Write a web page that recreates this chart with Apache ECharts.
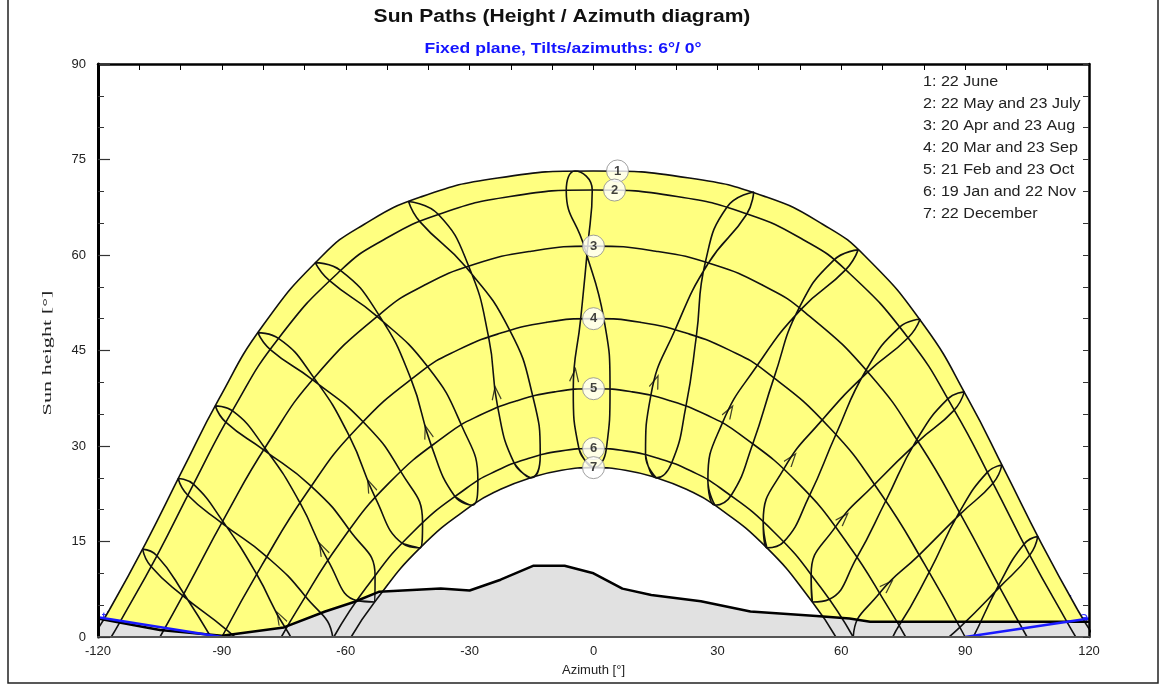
<!DOCTYPE html>
<html><head><meta charset="utf-8">
<script src="https://cdn.jsdelivr.net/npm/echarts@6/dist/echarts.min.js"></script>
<style>html,body{margin:0;padding:0;background:#fff}#c{width:1168px;height:686px}</style>
</head><body><div id="c"></div>
<script>
// ---------- data (azimuth [deg], sun height [deg]) ----------
const xTicks = [-120, -90, -60, -30, 0, 30, 60, 90, 120];
const yTicks = [0, 15, 30, 45, 60, 75, 90];
const hourLabels = ['7h','8h','9h','10h','11h','12h','13h','14h','15h','16h','17h','18h','19h'];
const pathNumbers = ['1','2','3','4','5','6','7'];
const legendLines = ['1: 22 June','2: 22 May and 23 July','3: 20 Apr and 23 Aug','4: 20 Mar and 23 Sep','5: 21 Feb and 23 Oct','6: 19 Jan and 22 Nov','7: 22 December'];

// sun position at each clock hour 7h..19h for each date
const jan19 = [[-76.0,-15.3],[-67.0,-4.4],[-57.2,5.7],[-46.3,14.7],[-33.6,22.1],[-19.2,27.3],[-3.5,29.5],[12.6,28.6],[27.7,24.6],[41.1,18.1],[52.7,9.7],[62.9,0.0],[72.2,-10.6]];
const feb21 = [[-84.0,-10.0],[-74.5,1.3],[-64.3,12.0],[-52.8,21.8],[-39.3,30.1],[-23.2,36.1],[-4.9,38.9],[13.9,38.0],[31.2,33.6],[46.1,26.4],[58.6,17.3],[69.3,6.9],[79.1,-4.1]];
const mar20 = [[-91.3,-1.5],[-81.6,9.9],[-71.1,21.1],[-59.1,31.5],[-44.2,40.5],[-25.4,47.1],[-3.1,50.0],[19.8,48.3],[39.6,42.6],[55.4,34.1],[68.1,24.0],[78.9,12.9],[88.7,1.5]];
const apr20 = [[-99.2,6.8],[-89.8,18.2],[-79.6,29.7],[-67.7,40.7],[-52.0,50.6],[-30.2,58.2],[-1.4,61.4],[27.8,58.7],[50.3,51.5],[66.4,41.6],[78.6,30.7],[88.8,19.3],[98.3,7.8]];
const may22 = [[-105.8,12.8],[-96.9,24.0],[-87.4,35.5],[-76.3,46.9],[-61.3,57.6],[-37.6,66.4],[-0.3,70.2],[37.1,66.4],[61.1,57.7],[76.2,47.0],[87.3,35.6],[96.8,24.2],[105.7,12.9]];
const jun22 = [[-109.2,13.8],[-100.6,24.9],[-91.6,36.3],[-81.3,47.8],[-67.4,58.8],[-44.8,68.4],[-4.5,73.2],[38.8,69.9],[64.1,60.8],[79.1,49.9],[89.8,38.5],[98.9,27.0],[107.6,15.8]];
const jul23 = [[-107.2,11.1],[-98.3,22.3],[-89.0,33.7],[-78.2,45.1],[-64.0,56.0],[-42.0,65.2],[-6.6,70.1],[32.3,67.5],[58.2,59.2],[74.2,48.7],[85.8,37.4],[95.4,25.9],[104.3,14.6]];
const aug23 = [[-99.5,6.5],[-90.0,17.9],[-79.9,29.4],[-68.0,40.4],[-52.5,50.4],[-30.9,58.1],[-2.3,61.4],[27.1,58.9],[49.8,51.7],[66.0,41.9],[78.3,31.0],[88.6,19.6],[98.1,8.1]];
const sep23 = [[-89.0,1.2],[-79.1,12.6],[-68.4,23.7],[-55.8,33.8],[-40.1,42.4],[-20.3,48.2],[2.5,50.0],[24.9,47.2],[43.7,40.7],[58.7,31.8],[70.8,21.4],[81.3,10.2],[91.0,-1.2]];
const oct23 = [[-79.5,-4.6],[-69.8,6.4],[-59.1,16.8],[-46.7,26.0],[-32.0,33.3],[-14.7,37.8],[4.0,38.9],[22.4,36.3],[38.6,30.4],[52.3,22.2],[63.8,12.5],[74.0,1.8],[83.5,-9.5]];
const nov22 = [[-72.4,-10.8],[-63.1,-0.2],[-52.9,9.6],[-41.4,18.0],[-28.0,24.5],[-12.9,28.6],[3.1,29.5],[18.9,27.3],[33.4,22.3],[46.0,14.9],[57.0,5.9],[66.8,-4.2],[75.8,-15.1]];
const dec22 = [[-71.6,-14.8],[-62.7,-4.2],[-53.0,5.5],[-42.0,14.0],[-29.4,20.7],[-15.2,25.0],[0.0,26.6],[15.2,25.0],[29.4,20.7],[42.0,14.0],[53.0,5.5],[62.7,-4.2],[71.6,-14.8]];

// daily sun paths, sunrise to sunset
const sunPath1 = [[-121.3,0],[-117.3,4.2],[-108.4,14.8],[-99.7,26.0],[-90.7,37.4],[-80.2,48.8],[-65.8,59.8],[-55.6,64.8],[-41.9,69.1],[-23.2,72.1],[0,73.2],[23.2,72.1],[41.9,69.1],[55.6,64.8],[65.8,59.8],[80.2,48.8],[90.7,37.4],[99.7,26.0],[108.4,14.8],[117.3,4.2],[121.3,0]];
const sunPath2 = [[-116.8,0],[-114.9,2.1],[-105.7,12.8],[-96.8,24.1],[-87.4,35.6],[-76.3,46.9],[-61.2,57.6],[-50.8,62.4],[-37.4,66.4],[-20.2,69.2],[0,70.2],[20.2,69.2],[37.4,66.4],[50.8,62.4],[61.2,57.6],[76.3,46.9],[87.4,35.6],[96.8,24.1],[105.7,12.8],[114.9,2.1],[116.8,0]];
const sunPath3 = [[-105.0,0],[-98.8,7.3],[-89.3,18.8],[-79.1,30.2],[-67.0,41.2],[-51.2,51.0],[-41.1,55.2],[-29.0,58.5],[-15.1,60.6],[0,61.4],[15.1,60.6],[29.0,58.5],[41.1,55.2],[51.2,51.0],[67.0,41.2],[79.1,30.2],[89.3,18.8],[98.8,7.3],[105.0,0]];
const sunPath4 = [[-90,0],[-80.2,11.4],[-69.6,22.5],[-57.3,32.8],[-41.9,41.6],[-32.8,45.1],[-22.6,47.7],[-11.6,49.4],[0,50.0],[11.6,49.4],[22.6,47.7],[32.8,45.1],[41.9,41.6],[57.3,32.8],[69.6,22.5],[80.2,11.4],[90,0]];
const sunPath5 = [[-75.6,0],[-71.9,4.1],[-61.5,14.7],[-49.5,24.2],[-35.3,31.9],[-27.3,34.9],[-18.6,37.1],[-9.4,38.5],[0,39.0],[9.4,38.5],[18.6,37.1],[27.3,34.9],[35.3,31.9],[49.5,24.2],[61.5,14.7],[71.9,4.1],[75.6,0]];
const sunPath6 = [[-62.9,0],[-55.0,7.8],[-43.7,16.5],[-30.7,23.4],[-23.5,26.1],[-16.0,28.0],[-8.1,29.2],[0,29.6],[8.1,29.2],[16.0,28.0],[23.5,26.1],[30.7,23.4],[43.7,16.5],[55.0,7.8],[62.9,0]];
const sunPath7 = [[-58.7,0],[-53.0,5.5],[-42.0,14.0],[-29.4,20.7],[-22.5,23.2],[-15.2,25.0],[-7.7,26.2],[0,26.6],[7.7,26.2],[15.2,25.0],[22.5,23.2],[29.4,20.7],[42.0,14.0],[53.0,5.5],[58.7,0]];

// far horizon profile
const horizon = [[-120,2.9],[-105,1.1],[-90,0.2],[-75,1.5],[-65,4.0],[-58,5.5],[-52,7.1],[-37,7.6],[-30,7.3],[-22.5,9.0],[-14.5,11.2],[-7,11.2],[0,10.0],[7,7.6],[14,6.6],[26,5.6],[38,4.0],[54,3.3],[62,2.9],[67,2.4],[120,2.4]];
// "behind the plane" limits
const behindLeft = [[-120,3.1],[-90,0]];
const behindRight = [[90,0],[120,2.9]];

// ---------- chart ----------
const FONT = 'Liberation Sans, Arial, Helvetica, sans-serif';
const chart = echarts.init(document.getElementById('c'));
const sunPaths = [sunPath1, sunPath2, sunPath3, sunPath4, sunPath5, sunPath6, sunPath7];
const yearLoop = [dec22, jan19, feb21, mar20, apr20, may22, jun22, jul23, aug23, sep23, oct23, nov22, dec22, jan19];

const series = [];
series.push({type:'line', data:sunPath1, smooth:0.5, symbol:'none', z:1, silent:true,
  lineStyle:{width:0}, areaStyle:{color:'#ffff80', opacity:1}});
series.push({type:'line', data:sunPath7, smooth:0.5, symbol:'none', z:2, silent:true,
  lineStyle:{width:0}, areaStyle:{color:'#ffffff', opacity:1}});
series.push({type:'line', data:horizon, symbol:'none', z:3, silent:true,
  lineStyle:{width:0}, areaStyle:{color:'#e1e1e1', opacity:1}});
sunPaths.forEach(p => series.push({type:'line', data:p, smooth:0.5, symbol:'none', z:4, silent:true,
  lineStyle:{color:'#111', width:1.6}}));
hourLabels.forEach((h, i) => series.push({type:'line', data:yearLoop.map(r => r[i]), smooth:0.5,
  symbol:'none', z:4, silent:true, lineStyle:{color:'#111', width:1.6}}));
series.push({type:'line', data:horizon, symbol:'none', z:5, silent:true,
  lineStyle:{color:'#000', width:2.5}});
[behindLeft, behindRight].forEach(b => series.push({type:'line', data:b, symbol:'none', z:6, silent:true,
  lineStyle:{color:'#1a1aff', width:2.5}}));
// hour labels attached to the 22 June point of each analemma
series.push({type:'scatter', symbol:'none', z:7, silent:true,
  data: jun22.map((p, i) => ({value:p, label:{offset: i < 5 ? [-10,-13] : (i === 5 ? [4,-12] : (i === 6 ? [1,-13] : [12,-12]))}})),
  label:{show:true, position:'inside', formatter: d => hourLabels[d.dataIndex], fontFamily:FONT, fontSize:13, color:'#222'}});
// numbered path markers at the noon point of each path
const markerOffsets = [[24,0],[21,0],[0,0],[0,0],[0,0],[0,0],[0,0]];
series.push({type:'scatter', z:8, silent:true, symbol:'circle', symbolSize:22,
  data: sunPaths.map((p, i) => ({value: p[(p.length - 1) / 2], symbolOffset: markerOffsets[i]})),
  itemStyle:{color:'#fff', borderColor:'#888', borderWidth:1},
  label:{show:true, position:'inside', formatter: d => pathNumbers[d.dataIndex], fontFamily:FONT, fontSize:13, fontWeight:'bold', color:'#111'}});
const arrowSeriesIndex = series.length;
series.push({type:'scatter', z:6, silent:true, symbol:'path://M0,12 L5,0 L10,12', symbolSize:[9,13],
  itemStyle:{color:'rgba(0,0,0,0)', borderColor:'#111', borderWidth:1.4}, data:[]});

const txt = (x, y, text, o) => Object.assign({type:'text', x, y, silent:true,
  style:Object.assign({text, fill:'#222', font:'14px ' + FONT, textAlign:'left', textVerticalAlign:'middle', align:'left', verticalAlign:'middle'}, o.style || {})}, o.el || {});

const graphic = [
  {type:'rect', silent:true, shape:{x:8, y:-2, width:1150, height:685}, style:{fill:'none', stroke:'#222', lineWidth:1.5}},
  txt(562, 17, 'Sun Paths (Height / Azimuth diagram)', {el:{scaleX:1.17, scaleY:1.05}, style:{font:'bold 18px ' + FONT, fill:'#111', textAlign:'center', align:'center'}}),
  txt(563, 49, 'Fixed plane, Tilts/azimuths: 6°/ 0°', {el:{scaleX:1.17}, style:{font:'bold 15px ' + FONT, fill:'#1414ff', textAlign:'center', align:'center'}}),
  txt(168, 602, 'Behind', {el:{scaleX:1.15}, style:{font:'14px ' + FONT, fill:'#3333ff', textAlign:'right', align:'right'}}),
  txt(168, 618, 'the plane', {el:{scaleX:1.15}, style:{font:'14px ' + FONT, fill:'#3333ff', textAlign:'right', align:'right'}}),
  txt(1022, 602, 'Behind', {el:{scaleX:1.15}, style:{font:'14px ' + FONT, fill:'#3333ff'}}),
  txt(1022, 618, 'the plane', {el:{scaleX:1.15}, style:{font:'14px ' + FONT, fill:'#3333ff'}}),
  txt(48, 353, 'Sun height [°]', {el:{rotation:Math.PI / 2, scaleX:1.85}, style:{font:'12px Liberation Serif, Times New Roman, serif', fill:'#222', textAlign:'center', align:'center'}})
];
legendLines.forEach((l, i) => graphic.push(txt(923, 82 + 22 * i, l, {el:{scaleX:1.15}, style:{font:'14px ' + FONT, fill:'#222'}})));

const option = {
  animation:false,
  backgroundColor:'#fff',
  grid:{left:98, right:79, top:64, bottom:49, show:false},
  xAxis:[
    {type:'value', position:'bottom', min:xTicks[0], max:xTicks[xTicks.length-1], interval:xTicks[1]-xTicks[0], z:10,
     axisLine:{show:true, onZero:false, lineStyle:{color:'#555', width:2}}, axisTick:{show:false}, splitLine:{show:false},
     axisLabel:{fontFamily:FONT, fontSize:13, color:'#222', margin:8},
     name:'Azimuth [°]', nameLocation:'middle', nameGap:27, nameTextStyle:{fontFamily:FONT, fontSize:13, color:'#222'}},
    {type:'value', position:'top', min:xTicks[0], max:xTicks[xTicks.length-1], interval:10, z:10,
     axisLine:{show:true, onZero:false, lineStyle:{color:'#000', width:2.5}}, axisTick:{show:true, inside:true, length:6, lineStyle:{color:'#000'}},
     axisLabel:{show:false}, splitLine:{show:false}}
  ],
  yAxis:[
    {type:'value', position:'left', min:yTicks[0], max:yTicks[yTicks.length-1], interval:yTicks[1]-yTicks[0], z:10,
     axisLine:{show:true, onZero:false, lineStyle:{color:'#000', width:3}},
     axisTick:{show:true, inside:true, length:12, lineStyle:{color:'#333', width:1.2}},
     minorTick:{show:true, splitNumber:3, length:6, lineStyle:{color:'#333', width:1}},
     splitLine:{show:false}, minorSplitLine:{show:false},
     axisLabel:{fontFamily:FONT, fontSize:13, color:'#222', margin:12}},
    {type:'value', position:'right', min:yTicks[0], max:yTicks[yTicks.length-1], interval:5, z:10,
     axisLine:{show:true, onZero:false, lineStyle:{color:'#000', width:2.5}}, axisTick:{show:true, inside:true, length:6, lineStyle:{color:'#333'}},
     axisLabel:{show:false}, splitLine:{show:false}}
  ],
  graphic,
  series
};
chart.setOption(option);

// arrows on the Feb->Mar branch of each analemma, oriented through the axes' own pixel mapping
const arrows = [];
hourLabels.forEach((h, i) => {
  const a = feb21[i], b = mar20[i];
  const p = [a[0] + 0.2 * (b[0] - a[0]), a[1] + 0.2 * (b[1] - a[1])];
  if (p[1] < 0.8) return;
  const pa = chart.convertToPixel({gridIndex:0}, a), pb = chart.convertToPixel({gridIndex:0}, b);
  const dx = pb[0] - pa[0], dyUp = pa[1] - pb[1];
  arrows.push({value:p, symbolRotate: Math.atan2(-dx, dyUp) * 180 / Math.PI});
});
const s2 = series.map(() => ({}));
s2[arrowSeriesIndex] = {data:arrows};
chart.setOption({series:s2});
</script></body></html>
